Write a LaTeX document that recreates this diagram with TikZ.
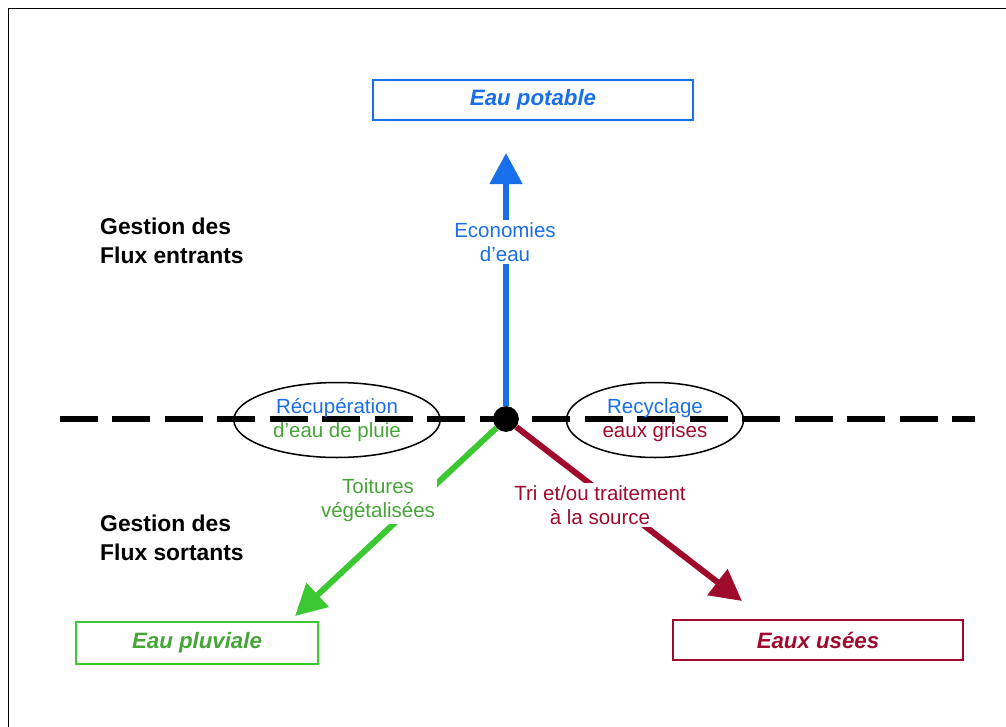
\documentclass[tikz,border=0pt]{standalone}
\usepackage{fontspec}
\setmainfont{Liberation Sans}
\usetikzlibrary{arrows.meta,shapes.geometric}
\definecolor{potable}{RGB}{25,110,235}
\definecolor{pluvial}{RGB}{60,200,50}
\definecolor{pluvialtxt}{RGB}{70,165,55}
\definecolor{usee}{RGB}{160,10,45}
\tikzset{
  >={Triangle[length=26.5pt,width=27pt]},
  flux/.style={line width=5.1pt,->},
  bac/.style={draw,line width=1.6pt,minimum height=34pt,inner sep=0pt,font=\fontsize{19}{23}\selectfont\bfseries\itshape},
  etiq/.style={fill=white,align=center,inner sep=2pt,font=\fontsize{17.5}{21}\selectfont},
  bulle/.style={ellipse,draw,line width=1.3pt,minimum height=64pt,align=center,inner sep=0pt,font=\fontsize{17.5}{20.5}\selectfont},
  gestion/.style={align=left,anchor=north west,inner sep=0pt,font=\fontsize{19.5}{24.5}\selectfont\bfseries}
}
\begin{document}
\begin{tikzpicture}[x=0.03cm,y=-0.03cm]
  \useasboundingbox (0,0) rectangle (1006,726);
  \draw[line width=1.5pt] (8.5,8.5) rectangle (1050,780);

  \node[gestion] (entrants) at (100,218) {Gestion des\\Flux entrants};
  \node[gestion] (sortants) at (100,515) {Gestion des\\Flux sortants};

  \node[bac,draw=potable,text=potable,minimum width=273pt] (potable) at (533,100) {Eau potable};
  \node[bac,draw=pluvial,text=pluvialtxt,minimum width=207pt,minimum height=36pt] (pluviale) at (197,643) {Eau pluviale};
  \node[bac,draw=usee,text=usee,minimum width=248pt] (usees) at (818,640) {Eaux usées};

  \coordinate (lineL) at (60,419);
  \coordinate (lineR) at (975,419);
  \draw[line width=5.1pt,dash pattern=on 32.4pt off 12.4pt] (lineL) -- (lineR);
  \node[bulle,minimum width=176pt] (recup) at (337,420) {\textcolor{potable}{Récupération}\\\textcolor{pluvialtxt}{d'eau de pluie}};
  \node[bulle,minimum width=151pt] (recyc) at (655,420) {\textcolor{potable}{Recyclage}\\\textcolor{usee}{eaux grises}};

  \node[circle,fill,minimum size=22pt,inner sep=0pt] (hub) at (506,419) {};
  \coordinate (tipP) at (506,153);
  \coordinate (tipV) at (295,616);
  \coordinate (tipU) at (742,601);
  \draw[flux,potable] (hub) -- (tipP);
  \draw[flux,pluvial] (hub) -- (tipV);
  \draw[flux,usee] (hub) -- (tipU);

  \node[etiq,text=potable] (econ) at (505,242) {Economies\\d'eau};
  \node[etiq,text=pluvialtxt] (toit) at (378,500) {Toitures\\végétalisées};
  \node[etiq,text=usee] (tri) at (600,505) {Tri et/ou traitement\\à la source};
\end{tikzpicture}
\end{document}
